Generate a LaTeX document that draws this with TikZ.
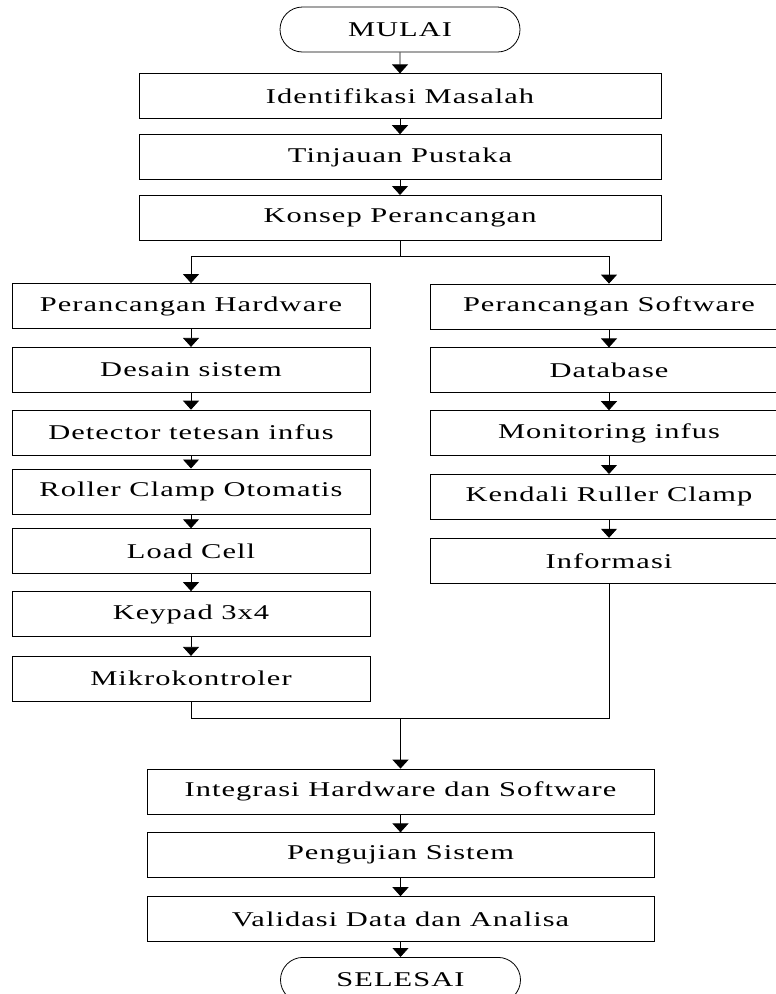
\documentclass[tikz,border=0pt]{standalone}
\usepackage{fontspec}
\setmainfont{Liberation Serif}[FakeStretch=1.45, LetterSpace=5]
\usepackage{tikz}
\usetikzlibrary{shapes.misc, arrows.meta, positioning}
\tikzstyle{terminal} = [rounded rectangle, draw=black, line width=0.8pt, minimum width=240pt, minimum height=45pt, inner sep=0pt]
\tikzstyle{process} = [rectangle, draw=black, line width=0.8pt, minimum height=45pt, inner sep=0pt, text centered]
\tikzstyle{arrow} = [line width=0.8pt, -{Triangle[length=9pt, width=16pt]}]

\begin{document}
\begin{tikzpicture}[x=1pt, y=1pt, font=\fontsize{21}{24}\selectfont]
    \useasboundingbox (0,0) rectangle (776,-994);
    % Components
    \node[terminal] (mulai) at (400,-29.5) {MULAI};
    \node[process, minimum width=522pt, below=21pt of mulai] (identifikasi) {Identifikasi Masalah};
    \node[process, minimum width=522pt, below=15pt of identifikasi] (tinjauan) {Tinjauan Pustaka};
    \node[process, minimum width=522pt, below=15pt of tinjauan] (konsep) {Konsep Perancangan};
    \coordinate[below=16pt of konsep] (split);

    % Hardware side
    \node[process, minimum width=358pt] (hardware) at (191,-306) {Perancangan Hardware};
    \node[process, minimum width=358pt, below=18pt of hardware] (desain) {Desain sistem};
    \node[process, minimum width=358pt, below=17pt of desain] (detector) {Detector tetesan infus};
    \node[process, minimum width=358pt, below=13pt of detector] (roller) {Roller Clamp Otomatis};
    \node[process, minimum width=358pt, below=14pt of roller] (loadcell) {Load Cell};
    \node[process, minimum width=358pt, below=17pt of loadcell] (keypad) {Keypad 3x4};
    \node[process, minimum width=358pt, below=19pt of keypad] (mikro) {Mikrokontroler};
    \coordinate[below=17pt of mikro] (join);

    % Software side
    \node[process, minimum width=358pt] (software) at (609,-306.5) {Perancangan Software};
    \node[process, minimum width=358pt, below=18pt of software] (database) {Database};
    \node[process, minimum width=358pt, below=17pt of database] (monitoring) {Monitoring infus};
    \node[process, minimum width=358pt, below=18pt of monitoring] (kendali) {Kendali Ruller Clamp};
    \node[process, minimum width=358pt, below=18pt of kendali] (informasi) {Informasi};

    % Integration
    \node[process, minimum width=507pt] (integrasi) at (400.5,-791.5) {Integrasi Hardware dan Software};
    \node[process, minimum width=507pt, below=18pt of integrasi] (pengujian) {Pengujian Sistem};
    \node[process, minimum width=507pt, below=18pt of pengujian] (validasi) {Validasi Data dan Analisa};
    \node[terminal, below=15pt of validasi] (selesai) {SELESAI};

    % Connections
    \foreach \a/\b in {mulai/identifikasi, identifikasi/tinjauan, tinjauan/konsep,
        hardware/desain, desain/detector, detector/roller, roller/loadcell, loadcell/keypad, keypad/mikro,
        software/database, database/monitoring, monitoring/kendali, kendali/informasi,
        integrasi/pengujian, pengujian/validasi, validasi/selesai}
        \draw[arrow] (\a) -- (\b);
    \draw[line width=0.8pt] (konsep.south) -- (split);
    \draw[arrow] (split) -| (hardware.north);
    \draw[arrow] (split) -| (software.north);
    \draw[line width=0.8pt] (mikro.south) -- (join) -| (informasi.south);
    \draw[arrow, line width=1.5pt] (join -| integrasi.north) -- (integrasi.north);
\end{tikzpicture}
\end{document}
